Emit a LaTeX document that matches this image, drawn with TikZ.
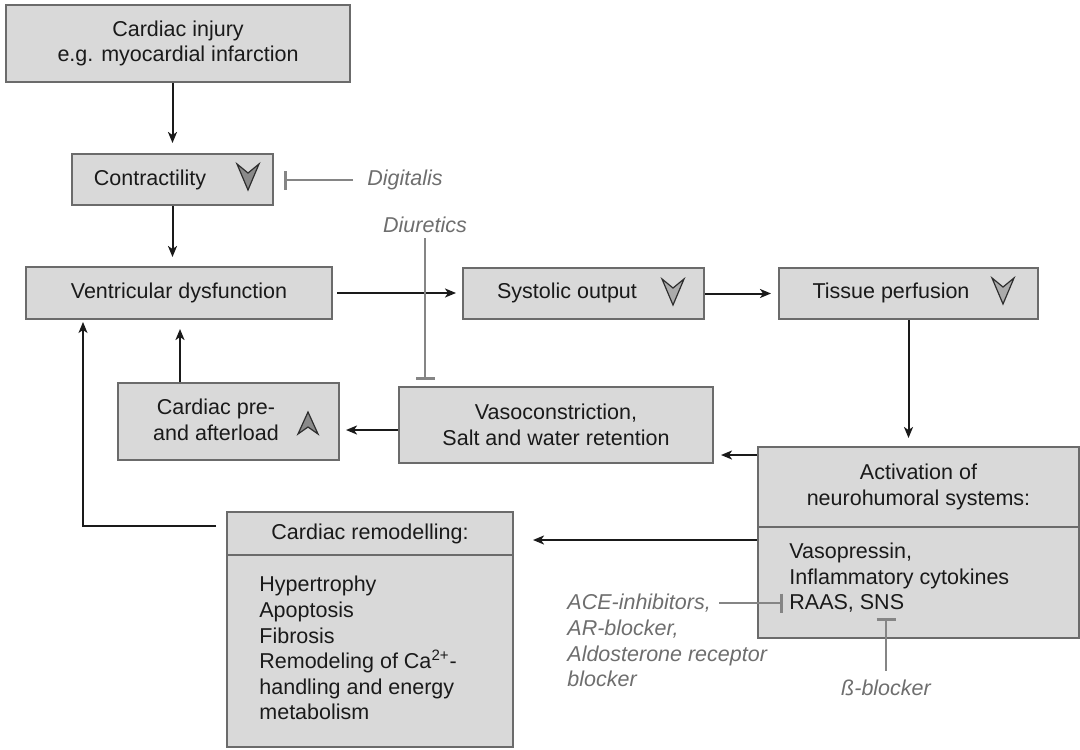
\documentclass[tikz,border=0pt]{standalone}
\usepackage{fontspec}
\setmainfont{Liberation Sans}
\usetikzlibrary{arrows.meta,calc}
\definecolor{boxfill}{HTML}{D9D9D9}
\definecolor{boxline}{HTML}{6B6B6B}
\definecolor{inhcol}{HTML}{858585}
\definecolor{greytext}{HTML}{6E6E6E}
\definecolor{ink}{HTML}{1A1A1A}
\definecolor{markdark}{HTML}{8A8A8A}
\definecolor{marklight}{HTML}{ABABAB}
\definecolor{markline}{HTML}{2E2E2E}
\begin{document}
\begin{tikzpicture}[x=0.5pt,y=-0.5pt,
 every node/.style={font=\fontsize{10.75}{12.8}\selectfont, text=ink, inner sep=0pt},
 box/.style={draw=boxline, fill=boxfill, line width=1pt, align=center},
 lbl/.style={align=center},
 drug/.style={text=greytext, font=\fontsize{10.75}{12.7}\selectfont\itshape, align=left},
 arr/.style={draw=ink, line width=1pt, -{Stealth[length=5.5pt,width=4.5pt,inset=1.5pt]}},
 arrthin/.style={draw=ink, line width=0.7pt, -{Stealth[length=5.5pt,width=4.5pt,inset=1.5pt]}},
 inh/.style={draw=inhcol, line width=1.4pt, -{Bar[width=9.5pt]}},
 downmark/.pic={\draw[draw=markline, line width=0.6pt, line join=miter, fill=#1] (-11,-13) -- (0,-4) -- (11,-13) -- (0,13) -- cycle;},
 upmark/.pic={\draw[draw=markline, line width=0.6pt, line join=miter, fill=#1] (0,-11) -- (10,11) -- (0,4) -- (-10,11) -- cycle;}
]
\useasboundingbox (0,0) rectangle (1080,749);

% boxes
\node[box, minimum width=172pt, minimum height=38.5pt] (inj) at (178,43.5) {Cardiac injury\\e.g. myocardial infarction};
\node[box, minimum width=100.5pt, minimum height=25.5pt] (con) at (172.5,179.5) {};
\node[lbl] (conl) at (150,180) {Contractility};
\pic at (248,177) {downmark=markdark};

\node[box, minimum width=153pt, minimum height=26pt] (ven) at (179,293) {Ventricular dysfunction};

\node[box, minimum width=120.5pt, minimum height=25.5pt] (sys) at (583.5,293.5) {};
\node[lbl] (sysl) at (567,293) {Systolic output};
\pic at (673,292) {downmark=marklight};

\node[box, minimum width=129.5pt, minimum height=25.5pt] (tis) at (908.5,293.5) {};
\node[lbl] (tisl) at (891,293) {Tissue perfusion};
\pic at (1003,291) {downmark=marklight};

\node[box, minimum width=110.5pt, minimum height=38.5pt] (pre) at (228.5,421.5) {};
\node[lbl] (prel) at (216,420) {Cardiac pre-\\and afterload};
\pic at (308,423) {upmark=markdark};

\node[box, minimum width=157pt, minimum height=38pt] (vaso) at (556,425) {Vasoconstriction,\\Salt and water retention};

\node[box, minimum width=160.5pt, minimum height=40pt] (actT) at (918.5,487) {Activation of\\neurohumoral systems:};
\node[box, minimum width=160.5pt, minimum height=55.5pt] (actL) at (918.5,582.5) {};
\node[anchor=north west, align=left] (acttxt) at (789,543) {Vasopressin,\\Inflammatory cytokines};
\node[anchor=west] (raas) at (789,603) {RAAS, SNS};

\node[box, minimum width=143pt, minimum height=21.5pt] (remT) at (370,533.5) {Cardiac remodelling:};
\node[box, minimum width=143pt, minimum height=96pt] (remL) at (370,651) {};
\node[anchor=north west, align=left] (remtxt) at (259,576) {Hypertrophy\\Apoptosis\\Fibrosis\\Remodeling of Ca\textsuperscript{2+}-\\handling and energy\\metabolism};

% drugs
\node[drug, anchor=west] (dig) at (367,180) {Digitalis};
\node[drug] (diu) at (425,225) {Diuretics};
\node[drug, anchor=west] (ace1) at (567,603) {ACE-inhibitors,};
\node[drug, anchor=north west] (ace2) at (567,620) {AR-blocker,\\Aldosterone receptor\\blocker};
\node[drug] (beta) at (886,688) {ß-blocker};

% arrows
\draw[arr, shorten >=5pt] (inj.south -| con.north) -- (con.north);
\draw[arr, shorten >=4.5pt] (con.south) -- (con.south |- ven.north);
\draw[arr, shorten <=2pt, shorten >=3pt] (ven.east) -- (ven.east -| sys.west);
\draw[arr, shorten >=3.5pt] (sys.east) -- (sys.east -| tis.west);
\draw[arr, shorten >=4pt] (tis.south) -- (tis.south |- actT.north);
\coordinate (a1) at ([yshift=-4.5pt]actT.north west);
\draw[arr, shorten >=3.5pt] (a1) -- (a1 -| vaso.east);
\coordinate (a2) at ([yshift=-2.5pt]vaso.west);
\draw[arr, shorten >=3pt] (a2) -- (a2 -| pre.east);
\coordinate (a3) at ([xshift=-24.25pt]pre.north);
\draw[arr, shorten >=4.5pt] (a3) -- (a3 |- ven.south);
\coordinate (a4) at ([yshift=-7pt]actL.north west);
\draw[arr, shorten >=9.5pt] (a4) -- (a4 -| remT.east);
\coordinate (a5) at ([yshift=3.75pt]remT.west);
\coordinate (fb) at (83,526);
\draw[arrthin, shorten <=5pt, shorten >=1pt] (a5) -- (fb) -- (fb |- ven.south);

% inhibitors
\draw[inh, shorten <=7pt, shorten >=5pt] (dig.west) -- (dig.west -| con.east);
\draw[inh, shorten <=2.5pt, shorten >=3pt] (diu.south) -- (diu.south |- vaso.north);
\draw[inh, shorten <=4pt, shorten >=3pt] (ace1.east) -- (ace1.east -| raas.west);
\draw[inh, shorten <=4.5pt, shorten >=3pt] (beta.north) -- (beta.north |- raas.south);
\end{tikzpicture}
\end{document}
